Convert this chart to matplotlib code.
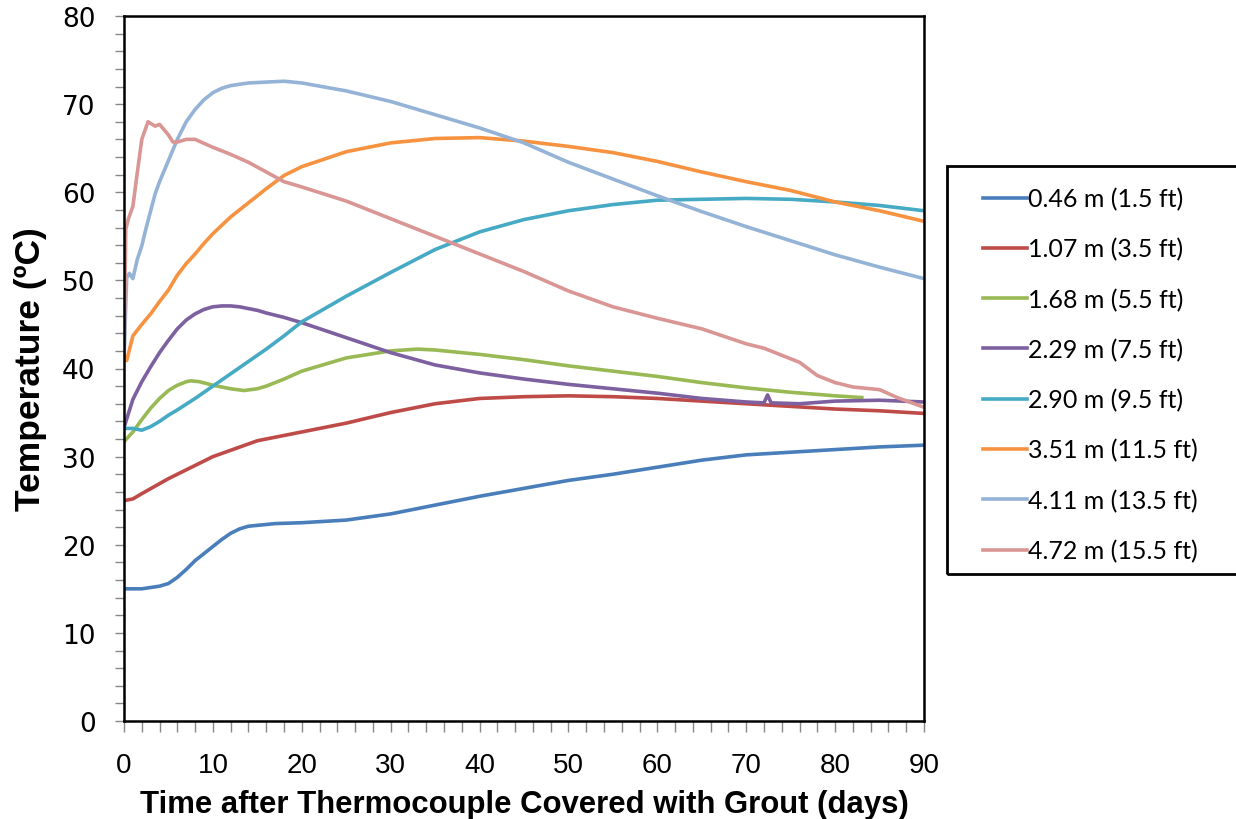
import matplotlib
matplotlib.use("Agg")
import matplotlib.pyplot as plt
from matplotlib.ticker import MultipleLocator
from matplotlib.patches import Rectangle

# ---- data (days, degC) ----
labels = ["0.46 m (1.5 ft)", "1.07 m (3.5 ft)", "1.68 m (5.5 ft)", "2.29 m (7.5 ft)",
          "2.90 m (9.5 ft)", "3.51 m (11.5 ft)", "4.11 m (13.5 ft)", "4.72 m (15.5 ft)"]
colors = ["#4A7EBB", "#BE4B48", "#98B954", "#7D60A0",
          "#46AAC5", "#F69240", "#95B3D7", "#D99694"]

d_046 = [0, 2, 4, 5, 6, 7, 8, 9, 10, 11, 12, 13, 14, 15, 17, 20, 25, 30, 35, 40,
         45, 50, 55, 60, 65, 70, 75, 80, 85, 90]
t_046 = [15, 15, 15.3, 15.6, 16.3, 17.2, 18.2, 19.0, 19.8, 20.6, 21.3, 21.8, 22.1, 22.2, 22.4, 22.5,
         22.8, 23.5, 24.5, 25.5, 26.4, 27.3, 28, 28.8, 29.6, 30.2, 30.5, 30.8, 31.1, 31.3]

d_107 = [0, 1, 2, 5, 10, 15, 20, 25, 30, 35, 40, 45, 50, 55, 60, 65, 70, 75, 80, 85, 90]
t_107 = [25, 25.2, 25.8, 27.5, 30, 31.8, 32.8, 33.8, 35, 36, 36.6, 36.8, 36.9, 36.8, 36.6,
         36.3, 36.0, 35.7, 35.4, 35.2, 34.9]

d_168 = [0, 1, 2, 3, 4, 5, 6, 7, 7.5, 8.5, 10, 11, 12, 13.5, 15, 16, 18, 20, 25, 30, 33, 35,
         40, 45, 50, 55, 60, 65, 70, 75, 80, 83]
t_168 = [31.7, 32.8, 34.2, 35.5, 36.6, 37.5, 38.1, 38.5, 38.6, 38.5, 38.1, 37.9, 37.7, 37.5, 37.7,
         38.0, 38.8, 39.7, 41.2, 42.0, 42.2, 42.1, 41.6, 41.0, 40.3, 39.7, 39.1, 38.4, 37.8,
         37.3, 36.9, 36.7]

d_229 = [0, 1, 2, 3, 4, 5, 6, 7, 8, 9, 10, 11, 12, 13, 14, 15, 16, 18, 20, 25, 30, 35, 40,
         45, 50, 55, 60, 65, 70, 72, 72.4, 72.8, 76, 80, 85, 90]
t_229 = [33.3, 36.5, 38.5, 40.2, 41.8, 43.2, 44.5, 45.5, 46.2, 46.7, 47.0, 47.1, 47.1, 47.0,
         46.8, 46.6, 46.3, 45.8, 45.2, 43.5, 41.8, 40.4, 39.5, 38.8, 38.2, 37.7, 37.2, 36.6,
         36.2, 36.1, 37.0, 36.1, 36.0, 36.3, 36.4, 36.2]

d_290 = [0, 1, 2, 3, 4, 5, 6, 8, 10, 12, 14, 16, 18, 20, 25, 30, 35, 40, 45, 50, 55, 60,
         65, 70, 75, 80, 85, 90]
t_290 = [33.2, 33.2, 33.0, 33.4, 34.0, 34.7, 35.3, 36.6, 38.0, 39.4, 40.8, 42.2, 43.7, 45.3,
         48.2, 50.9, 53.5, 55.5, 56.9, 57.9, 58.6, 59.1, 59.2, 59.3, 59.2, 58.9, 58.5, 57.9]

d_351 = [0, 0.3, 1, 2, 3, 4, 5, 6, 7, 8, 9, 10, 12, 14, 16, 18, 20, 25, 30, 35, 40, 45, 50,
         55, 60, 65, 70, 75, 80, 85, 90]
t_351 = [41.5, 40.9, 43.7, 45.0, 46.2, 47.6, 48.9, 50.6, 51.9, 53.0, 54.2, 55.3, 57.2, 58.8,
         60.4, 61.9, 62.9, 64.6, 65.6, 66.1, 66.2, 65.8, 65.2, 64.5, 63.5, 62.3, 61.2, 60.2,
         58.9, 57.9, 56.7]

d_411 = [0, 0.3, 0.6, 1, 1.5, 2, 2.5, 3, 3.5, 4, 5, 6, 7, 8, 9, 10, 11, 12, 14, 16, 18, 20,
         25, 30, 35, 40, 45, 50, 55, 60, 65, 70, 75, 80, 85, 90]
t_411 = [41, 50.3, 50.8, 50.2, 52.4, 53.9, 56.0, 57.9, 59.8, 61.2, 63.6, 66.0, 68.0, 69.4,
         70.5, 71.3, 71.8, 72.1, 72.4, 72.5, 72.6, 72.4, 71.5, 70.3, 68.8, 67.3, 65.6, 63.4,
         61.5, 59.6, 57.8, 56.1, 54.5, 52.9, 51.5, 50.2]

d_472 = [0, 0.2, 0.5, 1, 1.4, 2, 2.7, 3.5, 4, 5, 5.5, 6, 7, 8, 10, 12, 14, 16, 18, 20, 25,
         30, 35, 40, 45, 50, 55, 60, 65, 70, 72, 74, 76, 78, 80, 82, 85, 87, 90]
t_472 = [41, 55.8, 57, 58.4, 61.5, 66, 68, 67.5, 67.7, 66.5, 65.7, 65.7, 66, 66, 65.1, 64.3,
         63.4, 62.3, 61.2, 60.6, 59, 57, 55, 53, 51, 48.8, 47, 45.7, 44.5, 42.8, 42.3, 41.5,
         40.7, 39.2, 38.4, 37.9, 37.6, 36.7, 35.6]

series = [(d_046, t_046), (d_107, t_107), (d_168, t_168), (d_229, t_229),
          (d_290, t_290), (d_351, t_351), (d_411, t_411), (d_472, t_472)]

# ---- figure ----
fig = plt.figure(figsize=(12.36, 8.2), dpi=100)
ax = fig.add_axes([124 / 1236, 1 - 722 / 820, 800 / 1236, 705 / 820])

for (d, t), c, lab in zip(series, colors, labels):
    ax.plot(d, t, color=c, lw=2.6, label=lab, solid_joinstyle="round")

ax.set_xlim(0, 90)
ax.set_ylim(0, 80)
ax.xaxis.set_major_locator(MultipleLocator(10))
ax.xaxis.set_minor_locator(MultipleLocator(2))
ax.yaxis.set_major_locator(MultipleLocator(10))
ax.yaxis.set_minor_locator(MultipleLocator(2))
ax.tick_params(axis="both", which="both", direction="out", color="#888888", width=1)
ax.tick_params(axis="y", which="both", length=6.5, pad=14)
ax.tick_params(axis="x", which="both", length=8, pad=14)
for s in ax.spines.values():
    s.set_linewidth(1.8)
    s.set_color("black")

for lb in ax.get_yticklabels():
    lb.set_fontfamily("DejaVu Sans")
    lb.set_fontsize(19)
for lb in ax.get_xticklabels():
    lb.set_fontfamily("Liberation Sans")
    lb.set_fontsize(20)

ax.set_xlabel("Time after Thermocouple Covered with Grout (days)",
              family="Liberation Sans", fontweight="bold", fontsize=22.4, labelpad=8)
ax.set_ylabel("Temperature (ºC)", family="Liberation Sans",
              fontweight="bold", fontsize=25.5, labelpad=11)

# legend box, runs off the right edge like the original
fig.patches.append(Rectangle((947 / 1236, 1 - 575 / 820), 0.3, 408 / 820,
                             transform=fig.transFigure, fill=False, edgecolor="black",
                             linewidth=2))
fig.legend(loc="upper left", bbox_to_anchor=(983 / 1236, 1 - 188 / 820), frameon=False,
           prop={"family": "Lato", "size": 18}, handlelength=1.75, handletextpad=0.05,
           labelspacing=1.08, borderaxespad=0, borderpad=0)

fig.savefig("out.png", dpi=100)
